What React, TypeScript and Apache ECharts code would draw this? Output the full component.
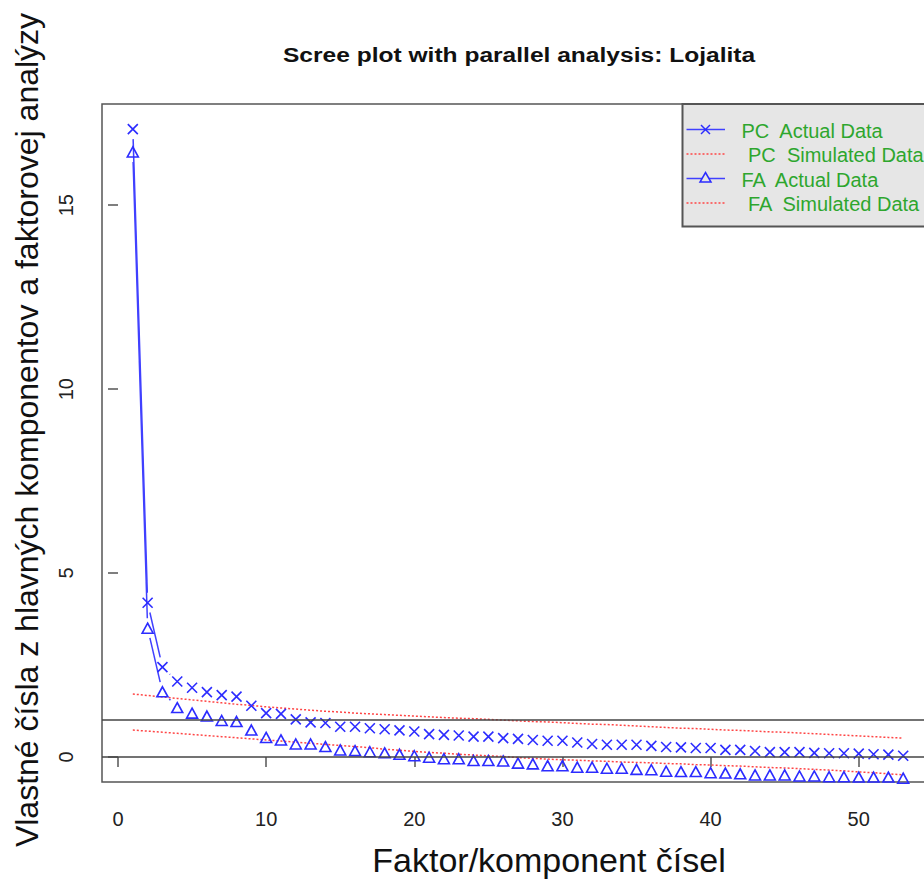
import React, { useEffect, useRef } from 'react';
import * as echarts from 'echarts';

const COMPONENTS = [
  1, 2, 3, 4, 5, 6, 7, 8, 9, 10, 11, 12, 13, 14, 15, 16, 17, 18, 19, 20,
  21, 22, 23, 24, 25, 26, 27, 28, 29, 30, 31, 32, 33, 34, 35, 36, 37, 38, 39, 40,
  41, 42, 43, 44, 45, 46, 47, 48, 49, 50, 51, 52, 53,
];

const PC_ACTUAL = [
  17.07, 4.19, 2.44, 2.05, 1.88, 1.76, 1.68, 1.64, 1.39, 1.19,
  1.17, 1.02, 0.94, 0.92, 0.82, 0.82, 0.78, 0.75, 0.72, 0.69,
  0.62, 0.6, 0.58, 0.55, 0.55, 0.51, 0.49, 0.46, 0.44, 0.44,
  0.39, 0.35, 0.33, 0.33, 0.33, 0.3, 0.27, 0.26, 0.24, 0.24,
  0.19, 0.19, 0.16, 0.13, 0.13, 0.13, 0.11, 0.1, 0.1, 0.09,
  0.07, 0.06, 0.03,
];

const FA_ACTUAL = [
  16.45, 3.5, 1.77, 1.34, 1.19, 1.11, 0.99, 0.96, 0.73, 0.53,
  0.46, 0.35, 0.35, 0.28, 0.19, 0.17, 0.14, 0.11, 0.07, 0.03,
  -0.01, -0.05, -0.05, -0.1, -0.1, -0.11, -0.17, -0.19, -0.24, -0.24,
  -0.28, -0.28, -0.31, -0.31, -0.34, -0.35, -0.39, -0.4, -0.4, -0.43,
  -0.44, -0.46, -0.49, -0.49, -0.49, -0.52, -0.52, -0.54, -0.54, -0.55,
  -0.55, -0.55, -0.58,
];

const PC_SIMULATED = [
  1.71, 1.67, 1.63, 1.59, 1.55, 1.51, 1.47, 1.43, 1.4, 1.36,
  1.33, 1.3, 1.27, 1.24, 1.22, 1.19, 1.17, 1.15, 1.13, 1.11,
  1.09, 1.07, 1.05, 1.04, 1.02, 1.0, 0.98, 0.96, 0.95, 0.93,
  0.91, 0.89, 0.88, 0.86, 0.84, 0.82, 0.8, 0.78, 0.77, 0.75,
  0.73, 0.72, 0.7, 0.68, 0.67, 0.65, 0.63, 0.61, 0.59, 0.57,
  0.55, 0.53, 0.51,
];

const FA_SIMULATED = [
  0.73, 0.7, 0.67, 0.64, 0.61, 0.58, 0.55, 0.52, 0.49, 0.46,
  0.43, 0.4, 0.37, 0.34, 0.31, 0.28, 0.25, 0.21, 0.18, 0.15,
  0.12, 0.1, 0.07, 0.05, 0.03, 0.01, -0.02, -0.04, -0.06, -0.08,
  -0.09, -0.11, -0.12, -0.14, -0.15, -0.16, -0.18, -0.19, -0.21, -0.22,
  -0.24, -0.25, -0.27, -0.29, -0.3, -0.32, -0.34, -0.36, -0.38, -0.41,
  -0.43, -0.46, -0.49,
];

const X_TICKS = [0, 10, 20, 30, 40, 50];
const Y_TICKS = [0, 5, 10, 15];
const REF_LINES = [1, 0];

const TITLE = 'Scree plot with parallel analysis: Lojalita';
const X_TITLE = 'Faktor/komponent čísel';
const Y_TITLE = 'Vlastné čísla z hlavných komponentov a faktorovej analýzy';
const LEGEND_LABELS = ['PC  Actual Data', 'PC  Simulated Data', 'FA  Actual Data', 'FA  Simulated Data'];

const FONT = '"Liberation Sans", Arial, Helvetica, sans-serif';
const BLUE = '#2c2cff';
const BLUE_LINE = '#4040ff';
const RED = '#ff4545';
const GREEN = '#2ea62e';
const AXIS_GRAY = '#555555';
const GAP = 10;

const X_MARK = 'path://M0,0L10,10M10,0L0,10';

function points(ys: number[]) {
  return COMPONENTS.map((x, i) => [x, ys[i]]);
}

function segments(ys: number[]) {
  const out: number[][] = [];
  for (let i = 1; i < COMPONENTS.length; i++) {
    out.push([COMPONENTS[i - 1], ys[i - 1], COMPONENTS[i], ys[i]]);
  }
  return out;
}

function gapRenderer(color: string) {
  return (params: any, api: any) => {
    const p0 = api.coord([api.value(0), api.value(1)]);
    const p1 = api.coord([api.value(2), api.value(3)]);
    const dx = p1[0] - p0[0];
    const dy = p1[1] - p0[1];
    const len = Math.sqrt(dx * dx + dy * dy);
    const f = len > 0 ? GAP / len : 1;
    if (f >= 0.5) return { type: 'group', children: [] };
    return {
      type: 'line',
      shape: { x1: p0[0] + f * dx, y1: p0[1] + f * dy, x2: p1[0] - f * dx, y2: p1[1] - f * dy },
      style: { stroke: color, lineWidth: 1.5, fill: null },
    };
  };
}

function legendGraphics() {
  const rows = [129.5, 154, 178.5, 203];
  const textX = [741.5, 748, 741.5, 748];
  const items: any[] = [
    {
      type: 'rect',
      shape: { x: 682.5, y: 104, width: 300, height: 122.5 },
      style: { fill: '#e6e6e6', stroke: AXIS_GRAY, lineWidth: 2 },
      z: 50,
    },
  ];
  rows.forEach((y, i) => {
    const simulated = i % 2 === 1;
    items.push({
      type: 'line',
      shape: { x1: 686.5, y1: y, x2: 725, y2: y },
      style: simulated
        ? { stroke: RED, lineWidth: 1.5, lineDash: [2, 2] }
        : { stroke: BLUE_LINE, lineWidth: 1.5 },
      z: 51,
    });
    if (i === 0) {
      items.push({ type: 'line', shape: { x1: 701, y1: y - 4.5, x2: 710, y2: y + 4.5 }, style: { stroke: BLUE, lineWidth: 1.5 }, z: 52 });
      items.push({ type: 'line', shape: { x1: 710, y1: y - 4.5, x2: 701, y2: y + 4.5 }, style: { stroke: BLUE, lineWidth: 1.5 }, z: 52 });
    }
    if (i === 2) {
      items.push({
        type: 'polygon',
        shape: { points: [[705.5, y - 6], [711, y + 3.5], [700, y + 3.5]] },
        style: { fill: '#e6e6e6', stroke: BLUE, lineWidth: 1.5 },
        z: 52,
      });
    }
    items.push({
      type: 'text',
      x: textX[i],
      y: y + 1,
      style: {
        text: LEGEND_LABELS[i],
        fill: GREEN,
        font: `20px ${FONT}`,
        textAlign: 'left',
        textVerticalAlign: 'middle',
      },
      z: 52,
    });
  });
  return items;
}

export default function App() {
  const ref = useRef<HTMLDivElement>(null);

  useEffect(() => {
    if (!ref.current) return;
    const chart = echarts.init(ref.current, undefined, { renderer: 'svg' });
    const option: any = {
      animation: false,
      backgroundColor: '#ffffff',
      grid: {
        left: 102,
        top: 104,
        width: 832,
        height: 678,
        show: true,
        borderColor: AXIS_GRAY,
        borderWidth: 1.5,
        backgroundColor: 'transparent',
      },
      xAxis: {
        type: 'value',
        min: -1.08,
        max: 55.08,
        axisLine: { show: false },
        splitLine: { show: false },
        axisTick: {
          show: true,
          inside: false,
          length: 10,
          customValues: X_TICKS,
          lineStyle: { color: AXIS_GRAY, width: 1.5 },
        },
        axisLabel: {
          customValues: X_TICKS,
          fontSize: 20,
          fontFamily: FONT,
          color: '#222',
          margin: 27,
        },
      },
      yAxis: {
        type: 'value',
        min: -0.683,
        max: 17.753,
        axisLine: { show: false },
        splitLine: { show: false },
        axisTick: {
          show: true,
          inside: false,
          length: 10,
          customValues: Y_TICKS,
          lineStyle: { color: AXIS_GRAY, width: 1.5 },
        },
        axisLabel: {
          customValues: Y_TICKS,
          fontSize: 20,
          fontFamily: FONT,
          color: '#222',
          rotate: 90,
          margin: 26,
        },
      },
      series: [
        {
          name: 'PC Simulated Data',
          type: 'line',
          data: points(PC_SIMULATED),
          symbol: 'none',
          lineStyle: { color: RED, width: 1.5, type: [2, 2] },
          z: 2,
          markLine: {
            silent: true,
            symbol: 'none',
            label: { show: false },
            lineStyle: { color: '#444', width: 1.6, type: 'solid' },
            data: REF_LINES.map((v) => ({ yAxis: v })),
          },
        },
        {
          name: 'FA Simulated Data',
          type: 'line',
          data: points(FA_SIMULATED),
          symbol: 'none',
          lineStyle: { color: RED, width: 1.5, type: [2, 2] },
          z: 2,
        },
        {
          name: 'PC Actual Line',
          type: 'custom',
          data: segments(PC_ACTUAL),
          renderItem: gapRenderer(BLUE_LINE),
          z: 3,
        },
        {
          name: 'FA Actual Line',
          type: 'custom',
          data: segments(FA_ACTUAL),
          renderItem: gapRenderer(BLUE_LINE),
          z: 3,
        },
        {
          name: 'PC Actual Data',
          type: 'scatter',
          data: points(PC_ACTUAL),
          symbol: X_MARK,
          symbolSize: 10,
          itemStyle: { color: 'rgba(0,0,0,0)', borderColor: BLUE, borderWidth: 1.6, opacity: 1 },
          z: 4,
        },
        {
          name: 'FA Actual Data',
          type: 'scatter',
          data: points(FA_ACTUAL),
          symbol: 'triangle',
          symbolSize: [11, 10],
          itemStyle: { color: 'rgba(0,0,0,0)', borderColor: BLUE, borderWidth: 1.6, opacity: 1 },
          z: 4,
        },
      ],
      graphic: [
        {
          type: 'text',
          x: 519,
          y: 55,
          scaleX: 1.17,
          style: {
            text: TITLE,
            font: `bold 21px ${FONT}`,
            fill: '#111',
            textAlign: 'center',
            textVerticalAlign: 'middle',
          },
        },
        {
          type: 'text',
          x: 549,
          y: 860,
          style: {
            text: X_TITLE,
            font: `34px ${FONT}`,
            fill: '#111',
            textAlign: 'center',
            textVerticalAlign: 'middle',
          },
        },
        {
          type: 'text',
          x: 27,
          y: 430,
          rotation: Math.PI / 2,
          style: {
            text: Y_TITLE,
            font: `32px ${FONT}`,
            fill: '#111',
            textAlign: 'center',
            textVerticalAlign: 'middle',
          },
        },
        ...legendGraphics(),
      ],
    };
    chart.setOption(option);
    return () => {
      chart.dispose();
    };
  }, []);

  return (
    <div
      style={{
        position: 'fixed',
        left: 0,
        top: 0,
        width: 924,
        height: 884,
        overflow: 'hidden',
        background: '#ffffff',
      }}
    >
      <div ref={ref} style={{ width: 940, height: 884 }} />
    </div>
  );
}
